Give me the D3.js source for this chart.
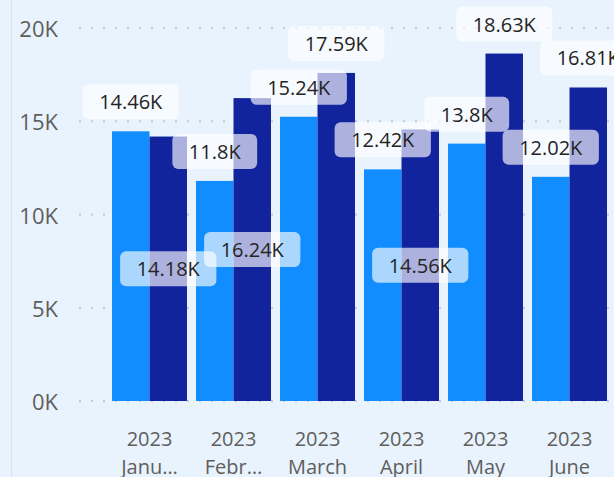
<!DOCTYPE html>
<html>
<head>
<meta charset="utf-8">
<script src="https://cdn.jsdelivr.net/npm/d3@7"></script>
<style>
  html, body { margin: 0; padding: 0; background: #e8f3fe; }
  svg { display: block; font-family: "Segoe UI", "Open Sans", sans-serif; }
</style>
</head>
<body>
<svg id="chart" width="614" height="477"></svg>
<script>
// chart data
const years = ["2023", "2023", "2023", "2023", "2023", "2023"];
const months = ["January", "February", "March", "April", "May", "June"];
const seriesA = [14460, 11800, 15240, 12420, 13800, 12020];
const seriesB = [14180, 16240, 17590, 14560, 18630, 16810];
const yTicks = [0, 5000, 10000, 15000, 20000];

const W = 614, H = 477;
const svg = d3.select("#chart");

svg.append("rect").attr("width", W).attr("height", H).attr("fill", "#e8f3fe");
// thin frame line on the left
svg.append("line")
  .attr("x1", 11.5).attr("x2", 11.5).attr("y1", 0).attr("y2", H)
  .attr("stroke", "#d4e4f5").attr("stroke-width", 1);

const y = d3.scaleLinear().domain([0, 20000]).range([401, 28]);
const x = d3.scaleBand().domain(d3.range(months.length))
  .range([107.5, 611.5]).paddingInner(9 / 84).paddingOuter(4.5 / 84);
const xs = d3.scaleBand().domain([0, 1]).range([0, x.bandwidth()]);

const colors = ["#118dff", "#12239e"];

// dotted gridlines
svg.append("g").selectAll("line")
  .data(yTicks)
  .join("line")
  .attr("x1", 79).attr("x2", W)
  .attr("y1", d => y(d)).attr("y2", d => y(d))
  .attr("stroke", "#c8c8c8").attr("stroke-width", 2)
  .attr("stroke-dasharray", "2,10");

// y tick labels
svg.append("g").selectAll("text")
  .data(yTicks)
  .join("text")
  .attr("x", 58).attr("y", d => y(d))
  .attr("text-anchor", "end").attr("dominant-baseline", "central")
  .attr("fill", "#605e5c").attr("font-size", 22)
  .text(d => `${d / 1000}K`);

// bars
const rows = months.map((m, i) => ({ i, vals: [seriesA[i], seriesB[i]] }));
svg.append("g").selectAll("g")
  .data(rows)
  .join("g")
  .attr("transform", d => `translate(${x(d.i)},0)`)
  .selectAll("rect")
  .data(d => d.vals.map((v, s) => ({ v, s })))
  .join("rect")
  .attr("x", d => xs(d.s))
  .attr("width", xs.bandwidth())
  .attr("y", d => y(d.v))
  .attr("height", d => y(0) - y(d.v))
  .attr("fill", d => colors[d.s]);

// x axis labels, month truncated to fit band
const xl = svg.append("g").selectAll("g")
  .data(months)
  .join("g")
  .attr("transform", (d, i) => `translate(${x(i) + x.bandwidth() / 2},0)`);
xl.append("text")
  .attr("y", 438).attr("text-anchor", "middle").attr("dominant-baseline", "central")
  .attr("fill", "#605e5c").attr("font-size", 20)
  .text((d, i) => years[i]);
xl.append("text")
  .attr("y", 466).attr("text-anchor", "middle").attr("dominant-baseline", "central")
  .attr("fill", "#605e5c").attr("font-size", 20)
  .text(d => d)
  .each(function (d) {
    const t = d3.select(this);
    const maxW = x.bandwidth() - 8;
    let s = d;
    while (this.getComputedTextLength() > maxW && s.length > 1) {
      s = s.slice(0, -1);
      t.text(s + "…");
    }
  });

// data labels: series A above bars; series B above unless it hits an A label, then centred inside
const fmt = v => `${+(v / 1000).toFixed(2)}K`;
const labelLayer = svg.append("g");
const placedA = [];
const boxH = 35, padX = 16.5, gap = 12;

function addLabel(cx, cy, text) {
  const g = labelLayer.append("g");
  const rect = g.append("rect");
  const t = g.append("text")
    .attr("x", cx).attr("y", cy)
    .attr("text-anchor", "middle").attr("dominant-baseline", "central")
    .attr("fill", "#252423").attr("font-size", 20)
    .text(text);
  const w = t.node().getComputedTextLength() + padX * 2;
  rect.attr("x", cx - w / 2).attr("y", cy - boxH / 2)
    .attr("width", w).attr("height", boxH).attr("rx", 6)
    .attr("fill", "#ffffff").attr("fill-opacity", 0.65);
  return { g, box: { x0: cx - w / 2, x1: cx + w / 2, y0: cy - boxH / 2, y1: cy + boxH / 2 } };
}

const hits = (a, b) => a.x0 < b.x1 && b.x0 < a.x1 && a.y0 < b.y1 && b.y0 < a.y1;

seriesA.forEach((v, i) => {
  const cx = x(i) + xs(0) + xs.bandwidth() / 2;
  const lab = addLabel(cx, y(v) - gap - boxH / 2, fmt(v));
  placedA.push(lab.box);
});
seriesB.forEach((v, i) => {
  const cx = x(i) + xs(1) + xs.bandwidth() / 2;
  let lab = addLabel(cx, y(v) - gap - boxH / 2, fmt(v));
  if (placedA.some(b => hits(b, lab.box))) {
    lab.g.remove();
    lab = addLabel(cx, (y(v) + y(0)) / 2, fmt(v));
  }
});
</script>
</body>
</html>
